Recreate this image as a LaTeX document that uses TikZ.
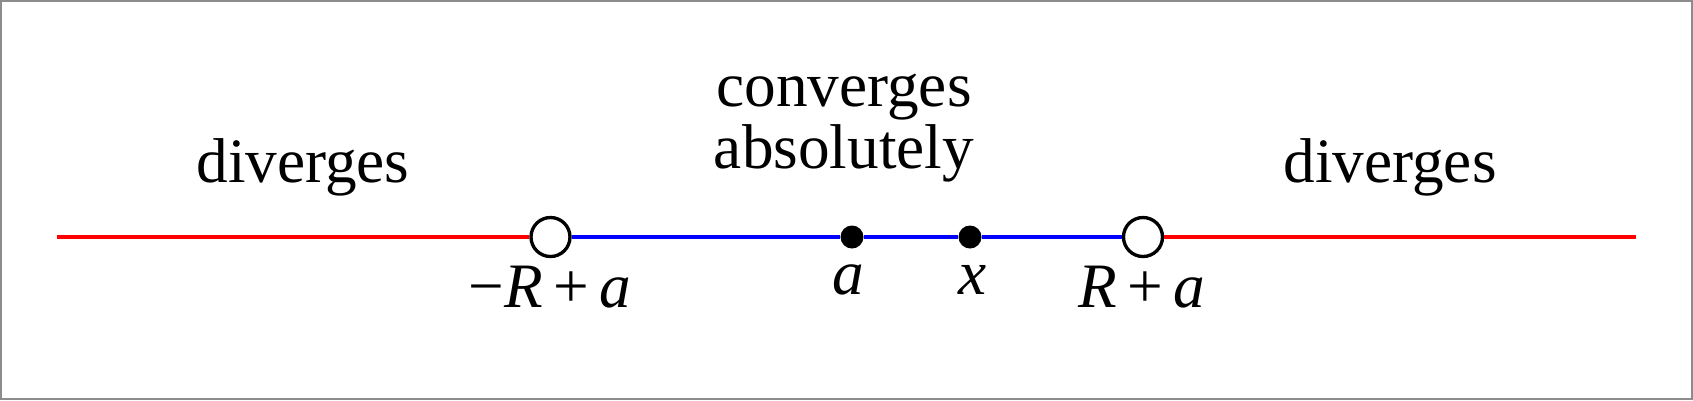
\documentclass[tikz,border=0pt]{standalone}
\usepackage{fontspec}
\setmainfont{Liberation Serif}

\tikzset{
  opendot/.style={circle, draw, fill=white, line width=0.95pt, minimum size=0.39cm, inner sep=0pt},
  pointdot/.style={circle, fill=black, minimum size=0.23cm, inner sep=0pt},
  txt/.style={anchor=base, font=\fontsize{18}{15.6}\selectfont}
}

\begin{document}
\begin{tikzpicture}
    \useasboundingbox (0,0) rectangle (16.93,4);
    \draw[gray!90, line width=0.02cm] (0.01,0.01) rectangle (16.92,3.99);
    \coordinate (left) at (0.57,1.63);
    \coordinate (right) at (16.36,1.63);
    \node[opendot] (lo) at (5.505,1.63) {};
    \node[pointdot] (a) at (8.52,1.63) {};
    \node[pointdot] (x) at (9.70,1.63) {};
    \node[opendot] (hi) at (11.43,1.63) {};
    \node[txt] (lolab) at (5.50,0.93) {−\textit{R}\,+\,\textit{a}};
    \node[txt] (alab) at (8.48,1.06) {\textit{a}};
    \node[txt] (xlab) at (9.73,1.06) {\textit{x}};
    \node[txt] (hilab) at (11.42,0.93) {\textit{R}\,+\,\textit{a}};
    \node[txt] (divl) at (3.03,2.18) {diverges};
    \node[txt] (divr) at (13.90,2.18) {diverges};
    \node[txt, align=center] (conv) at (8.44,2.32) {converges\\absolutely};
    \draw[red, line width=1pt] (left) -- (lo) (hi) -- (right);
    \draw[blue, line width=1pt] (lo) -- (a) -- (x) -- (hi);
  \end{tikzpicture}
\end{document}
